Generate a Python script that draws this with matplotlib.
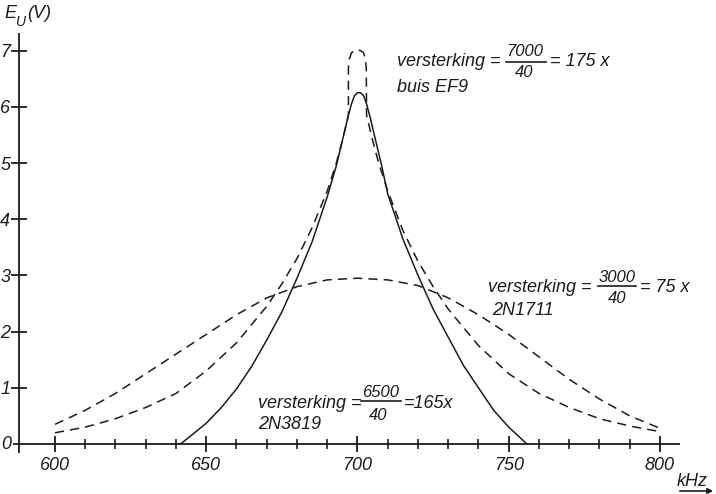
import matplotlib
matplotlib.use('Agg')
import matplotlib.pyplot as plt

# ---------------- data ----------------
# 2N3819 (solid), versterking 165x
f_2n3819 = [641.5, 645, 650, 655, 660, 665, 670, 675, 680, 685, 690, 693, 695, 697, 698, 699, 700,
            701, 702, 703, 704, 706, 708, 710, 715, 720, 725, 730, 735, 740, 745, 750, 756]
v_2n3819 = [0.0, 0.15, 0.37, 0.65, 0.98, 1.38, 1.85, 2.35, 2.95, 3.6, 4.4, 4.95, 5.4, 5.85, 6.05, 6.2, 6.25,
            6.25, 6.2, 6.05, 5.85, 5.4, 4.95, 4.45, 3.65, 3.0, 2.4, 1.9, 1.4, 1.0, 0.6, 0.3, 0.0]

# buis EF9 (dashed), versterking 175x
f_ef9 = [600, 610, 620, 630, 640, 650, 660, 670, 675, 680, 685, 690, 693, 695, 697, 697.0, 697.3, 698, 699, 700,
         701, 702, 702.6, 702.9, 703, 705, 707, 710, 715, 720, 725, 730, 740, 750, 760, 770, 780, 790, 800]
v_ef9 = [0.2, 0.3, 0.45, 0.65, 0.9, 1.3, 1.8, 2.45, 2.85, 3.3, 3.85, 4.5, 5.0, 5.4, 5.85, 6.7, 6.85, 6.96, 7.0, 7.02,
         7.0, 6.96, 6.85, 6.7, 5.85, 5.4, 5.0, 4.5, 3.8, 3.25, 2.8, 2.4, 1.75, 1.25, 0.9, 0.65, 0.45, 0.32, 0.22]

# 2N1711 (dashed), versterking 75x
f_2n1711 = [600, 610, 620, 630, 640, 650, 660, 670, 680, 690, 700, 710, 720, 730, 740, 750, 760, 770, 780, 790, 800]
v_2n1711 = [0.35, 0.6, 0.9, 1.25, 1.6, 1.95, 2.3, 2.6, 2.8, 2.92, 2.95, 2.92, 2.82, 2.6, 2.3, 1.95, 1.55, 1.15, 0.8, 0.5, 0.28]

x_major = [600, 650, 700, 750, 800]
x_minor = [610, 620, 630, 640, 660, 670, 680, 690, 710, 720, 730, 740, 760, 770, 780, 790]
y_major = [1, 2, 3, 4, 5, 6, 7]

# ---------------- figure ----------------
W, H = 716, 494
fig = plt.figure(figsize=(W / 100, H / 100), dpi=100)
fig.patch.set_facecolor('white')

FONT = 'Liberation Sans'
INK = '#1c1c1c'

px_per_khz = (660 - 55) / 200.0
px_per_v = 56.2
ax_l, ax_r, ax_b, ax_t = 19.3, 680.0, 444.0, 33.0
fmin = 600 - (55 - ax_l) / px_per_khz
fmax = 800 + (ax_r - 660) / px_per_khz
vmax = (ax_b - ax_t) / px_per_v

ax = fig.add_axes([ax_l / W, 1 - ax_b / H, (ax_r - ax_l) / W, (ax_b - ax_t) / H])
ax.set_xlim(fmin, fmax)
ax.set_ylim(0, vmax)
ax.patch.set_alpha(0)
for s in ax.spines.values():
    s.set_visible(False)

# axes lines (drawn so they overrun the origin like the drawing)
ax.plot([fmin - 2.0, fmax], [0, 0], color=INK, lw=1.3, clip_on=False, solid_capstyle='butt')
ax.plot([fmin, fmin], [-0.16, vmax], color=INK, lw=1.3, clip_on=False, solid_capstyle='butt')

ax.set_xticks(x_major)
ax.set_xticks(x_minor, minor=True)
ax.set_yticks(y_major)
ax.tick_params(axis='x', which='major', direction='inout', length=11, width=1.3, color=INK, pad=4)
ax.tick_params(axis='x', which='minor', direction='inout', length=7, width=1.2, color=INK)
ax.tick_params(axis='y', which='major', direction='inout', length=11, width=1.3, color=INK, pad=1)
for lab in ax.get_xticklabels() + ax.get_yticklabels():
    lab.set_fontfamily(FONT)
    lab.set_fontstyle('italic')
    lab.set_fontsize(13)
    lab.set_color(INK)

# curves
ax.plot(f_2n3819, v_2n3819, color=INK, lw=1.1, clip_on=False)
ax.plot(f_ef9, v_ef9, color=INK, lw=1.1, dashes=(6, 4), clip_on=False)
ax.plot(f_2n1711, v_2n1711, color=INK, lw=1.1, dashes=(6, 4), clip_on=False)


def T(x, y, s, size=13, ha='left', va='center'):
    fig.text(x / W, 1 - y / H, s, fontsize=size, ha=ha, va=va, family=FONT,
             style='italic', color=INK)


def frac_line(x0, x1, y):
    fig.add_artist(plt.Line2D([x0 / W, x1 / W], [1 - y / H, 1 - y / H],
                              transform=fig.transFigure, color=INK, lw=1.2))


# origin label and axis titles
T(6, 444, '0', ha='center')
T(4, 14, 'E', size=13)
T(15.5, 22, 'U', size=10)
T(27, 14, '(V)', size=13)
T(692, 481, 'kHz', size=13, ha='center')
ax.annotate('', xy=(716 / W, 1 - 491 / H), xytext=(677 / W, 1 - 491 / H),
            xycoords='figure fraction', textcoords='figure fraction',
            arrowprops=dict(arrowstyle='-|>', color=INK, lw=1.2, mutation_scale=8))

# EF9 annotation
T(397, 62, 'versterking =')
T(525, 52, '7000', size=12, ha='center')
frac_line(506, 546, 62)
T(524, 72, '40', size=12, ha='center')
T(550, 62, '= 175 x')
T(397, 87, 'buis EF9')

# 2N3819 annotation
T(258, 403, 'versterking =')
T(381, 392, '6500', size=12, ha='center')
frac_line(361, 401, 401)
T(378, 415, '40', size=12, ha='center')
T(404, 403, '=165x')
T(258, 424, '2N3819')

# 2N1711 annotation
T(488, 287, 'versterking =')
T(617, 277, '3000', size=12, ha='center')
frac_line(598, 636, 286)
T(617, 298, '40', size=12, ha='center')
T(640, 287, '= 75 x')
T(492, 310, '2N1711')

fig.savefig('out.png', dpi=100, facecolor='white')
